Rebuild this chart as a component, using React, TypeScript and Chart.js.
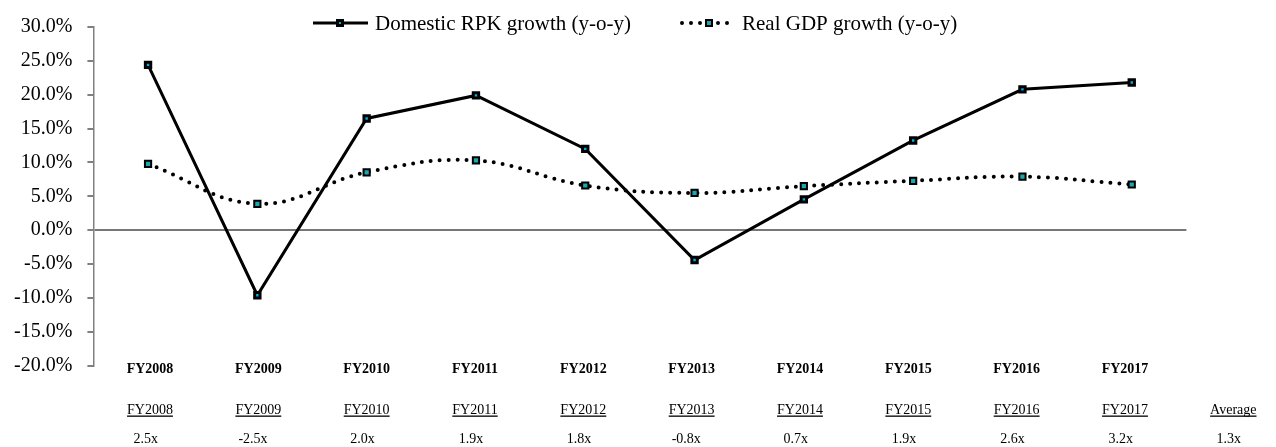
import React, { useEffect, useRef } from "react";
import { Chart, registerables } from "chart.js";

Chart.register(...registerables);

const categories = ["FY2008", "FY2009", "FY2010", "FY2011", "FY2012", "FY2013", "FY2014", "FY2015", "FY2016", "FY2017"];
const rpkGrowth = [24.4, -9.6, 16.5, 19.9, 12.0, -4.4, 4.55, 13.25, 20.8, 21.8];
const gdpGrowth = [9.8, 3.9, 8.55, 10.3, 6.6, 5.5, 6.5, 7.3, 7.9, 6.75];
const seriesNames = ["Domestic RPK growth (y-o-y)", "Real GDP growth (y-o-y)"];
const tableHeaders = [...categories, "Average"];
const multiples = [" 2.5x", "-2.5x", " 2.0x", " 1.9x", " 1.8x", "-0.8x", " 0.7x", " 1.9x", " 2.6x", " 3.2x", " 1.3x"];
const yMin = -20;
const yMax = 30;
const yStep = 5;

const SERIF = "'Liberation Serif', 'Times New Roman', serif";
const RPK_FILL = "#00B0F0";
const GDP_FILL = "#1AA8B0";
const AXIS_GRAY = "#808080";

function drawRect(ctx: CanvasRenderingContext2D, x: number, y: number, side: number, fill: string, bw: number) {
  ctx.beginPath();
  ctx.rect(x - side / 2, y - side / 2, side, side);
  ctx.fillStyle = fill;
  ctx.fill();
  ctx.lineWidth = bw;
  ctx.strokeStyle = "#000";
  ctx.stroke();
}

const overlayPlugin = {
  id: "overlay",
  afterDraw(chart: any) {
    const ctx: CanvasRenderingContext2D = chart.ctx;
    ctx.save();
    // Legend
    const ly = 23;
    ctx.setLineDash([]);
    ctx.strokeStyle = "#000";
    ctx.lineWidth = 3;
    ctx.beginPath();
    ctx.moveTo(313, ly);
    ctx.lineTo(368, ly);
    ctx.stroke();
    drawRect(ctx, 340, ly, 5, RPK_FILL, 3);

    ctx.lineCap = "round";
    ctx.setLineDash([0, 9]);
    ctx.lineWidth = 4;
    ctx.beginPath();
    ctx.moveTo(682, ly);
    ctx.lineTo(736, ly);
    ctx.stroke();
    ctx.setLineDash([]);
    ctx.lineCap = "butt";
    drawRect(ctx, 709, ly, 6, GDP_FILL, 2);

    ctx.fillStyle = "#000";
    ctx.font = `21px ${SERIF}`;
    ctx.textBaseline = "alphabetic";
    ctx.textAlign = "left";
    ctx.fillText(seriesNames[0], 375, 30);
    ctx.fillText(seriesNames[1], 742, 30);

    // Table
    const colStart = chart.chartArea.left + 56.6;
    const colStep = 108.33;
    ctx.textAlign = "center";
    ctx.font = `bold 14px ${SERIF}`;
    categories.forEach((c, i) => {
      ctx.fillText(c, colStart + i * colStep, 373);
    });
    ctx.font = `14px ${SERIF}`;
    tableHeaders.forEach((h, i) => {
      const cx = colStart + i * colStep;
      ctx.textAlign = "center";
      ctx.fillText(h, cx, 414);
      const w = ctx.measureText(h).width;
      ctx.fillRect(cx - w / 2, 415.5, w, 1.3);
    });
    ctx.textAlign = "left";
    multiples.forEach((m, i) => {
      const cx = colStart + i * colStep;
      const w = ctx.measureText(tableHeaders[i]).width;
      ctx.fillText(m, cx - w / 2 + 3, 443);
    });
    ctx.restore();
  },
};

export default function App() {
  const ref = useRef<HTMLCanvasElement>(null);
  useEffect(() => {
    if (!ref.current) return;
    const chart = new Chart(ref.current, {
      type: "line",
      data: {
        labels: categories,
        datasets: [
          {
            label: seriesNames[0],
            data: rpkGrowth,
            borderColor: "#000",
            borderWidth: 3,
            tension: 0,
            pointStyle: "rect",
            pointRadius: 3.8,
            pointHoverRadius: 3.8,
            pointBorderWidth: 3,
            pointBorderColor: "#000",
            pointBackgroundColor: RPK_FILL,
            fill: false,
          },
          {
            label: seriesNames[1],
            data: gdpGrowth,
            borderColor: "#000",
            borderWidth: 4,
            borderDash: [0, 9],
            borderCapStyle: "round",
            tension: 0.4,
            pointStyle: "rect",
            pointRadius: 4.4,
            pointHoverRadius: 4.4,
            pointBorderWidth: 2,
            pointBorderColor: "#000",
            pointBackgroundColor: GDP_FILL,
            fill: false,
          },
        ],
      },
      options: {
        animation: false,
        responsive: false,
        maintainAspectRatio: false,
        layout: { padding: { left: 0, right: 89.6, top: 25, bottom: 81.3 } },
        plugins: { legend: { display: false }, tooltip: { enabled: false } },
        scales: {
          x: { type: "category", offset: true, display: false },
          y: {
            min: yMin,
            max: yMax,
            ticks: {
              stepSize: yStep,
              padding: 15,
              color: "#000",
              font: { family: SERIF, size: 20 },
              callback: (v: any) => Number(v).toFixed(1) + "%",
            },
            grid: {
              drawOnChartArea: true,
              drawTicks: true,
              tickLength: 6,
              tickColor: AXIS_GRAY,
              lineWidth: 2,
              color: (c: any) => (c.tick && c.tick.value === 0 ? "#777777" : "rgba(0,0,0,0)"),
            },
            border: { display: true, color: AXIS_GRAY, width: 1.5 },
            afterFit: (scale: any) => {
              scale.width = 93.4;
            },
          },
        },
      },
      plugins: [overlayPlugin],
    });
    return () => chart.destroy();
  }, []);
  return (
    <div style={{ position: "absolute", left: 0, top: 0, width: 1276, height: 447, background: "#fff" }}>
      <canvas ref={ref} width={1276} height={447} style={{ display: "block" }} />
    </div>
  );
}
